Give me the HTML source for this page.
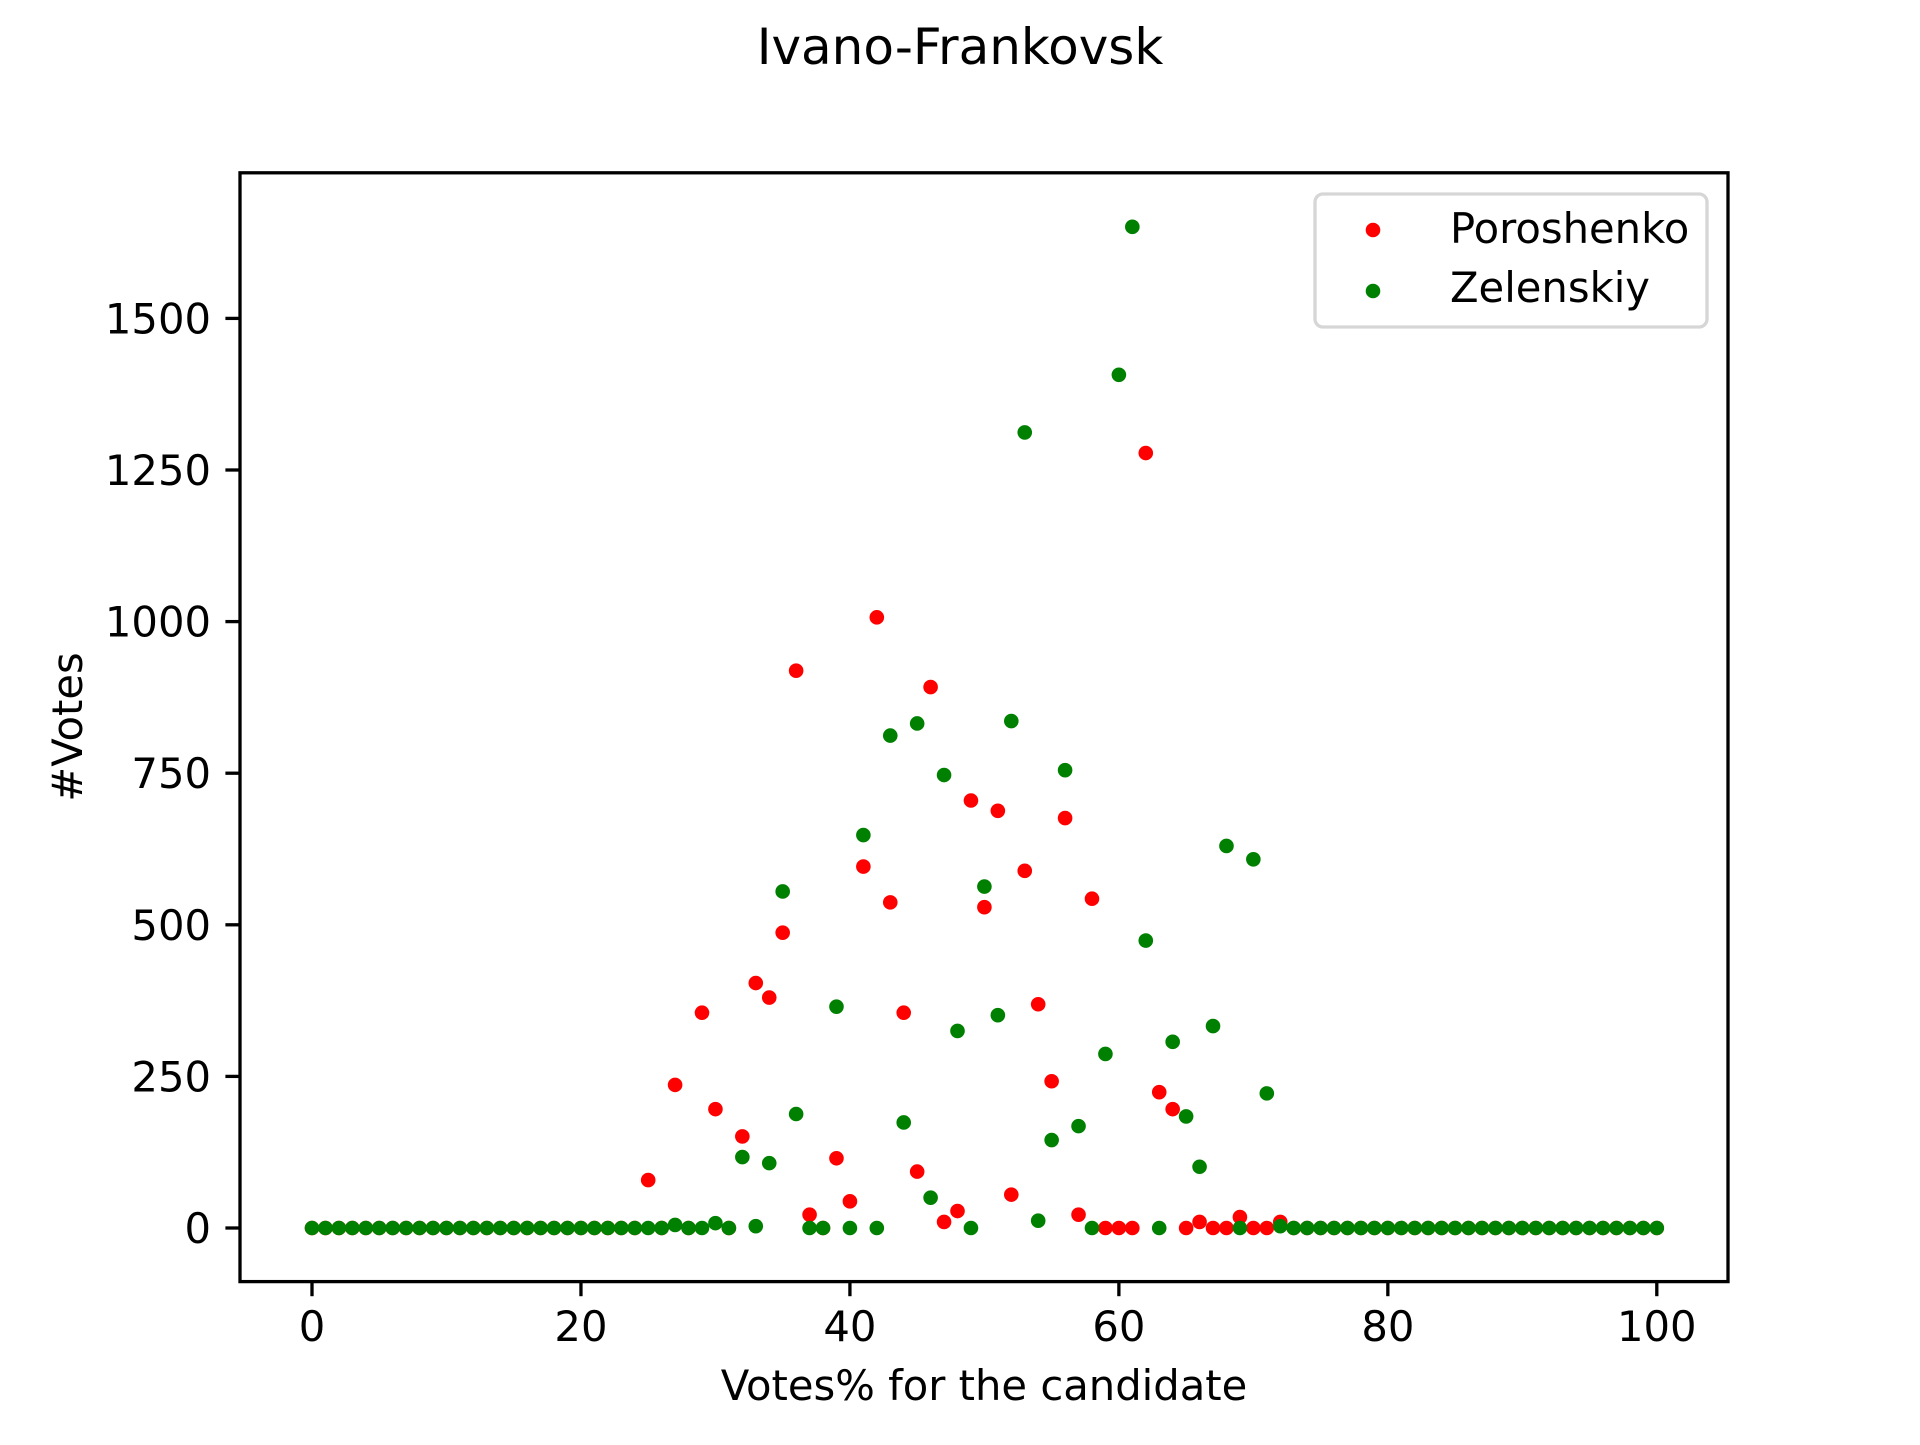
<!DOCTYPE html>
<html><head><meta charset="utf-8"><style>
html,body{margin:0;padding:0;background:#fff;}
svg text{font-family:"DejaVu Sans","Liberation Sans",sans-serif;fill:#000;}
</style></head><body>
<svg id="chart" width="1920" height="1440" viewBox="0 0 1920 1440" xmlns="http://www.w3.org/2000/svg">
<rect width="1920" height="1440" fill="#fff"/>
<text x="960" y="64" font-size="50" text-anchor="middle">Ivano-Frankovsk</text>
<g id="marks"></g>
<g id="axes"></g>
<rect x="240" y="172.8" width="1488" height="1108.8" fill="none" stroke="#000" stroke-width="3.3"/>
<g>
<rect x="1315" y="194" width="392" height="133" rx="8" fill="#fff" fill-opacity="0.8" stroke="#d6d6d6" stroke-width="3.3"/>
<circle cx="1373" cy="230" r="7.3" fill="#ff0000"/>
<text x="1450" y="243" font-size="41.7">Poroshenko</text>
<circle cx="1373" cy="291" r="7.3" fill="#008000"/>
<text x="1450" y="302" font-size="41.7">Zelenskiy</text>
</g>
<text x="984" y="1400" font-size="41.7" text-anchor="middle">Votes% for the candidate</text>
<text x="0" y="0" font-size="41.7" text-anchor="middle" transform="translate(82,727) rotate(-90)">#Votes</text>
</svg>
<script>
const xTicks = [0, 20, 40, 60, 80, 100];
const yTicks = [0, 250, 500, 750, 1000, 1250, 1500];
const poroX = [25,27,29,30,32,33,34,35,36,37,39,40,41,42,43,44,45,46,47,48,49,50,51,52,53,54,55,56,57,58,62,63,64,66,69,72];
const poroY = [79,236,355,196,151,404,380,487,919,22,115,44,596,1007,537,355,93,892,10,28,705,529,688,55,589,369,242,676,22,543,1278,224,196,10,18,10];
const zelX = [27,30,32,33,34,35,36,39,41,43,44,45,46,47,48,50,51,52,53,54,55,56,57,59,60,61,62,64,65,66,67,68,70,71,72];
const zelY = [5,8,117,3,107,555,188,365,648,812,174,832,50,747,325,563,351,836,1312,12,145,755,168,287,1407,1651,474,307,184,101,333,630,608,222,3];

function sx(v){ return 312 + v * (1656.8 - 312) / 100; }
function sy(v){ return 1228 - v * (1228 - 318.4) / 1500; }
const NS = 'http://www.w3.org/2000/svg';
const marks = document.getElementById('marks');
const axes = document.getElementById('axes');

function fullSeries(xs, ys){
  const vals = [];
  for (let i = 0; i <= 100; i++) vals.push(0);
  xs.forEach((x, i) => { vals[x] = ys[i]; });
  return vals;
}
function drawSeries(vals, color, name){
  vals.forEach((v, i) => {
    const c = document.createElementNS(NS, 'circle');
    c.setAttribute('cx', sx(i));
    c.setAttribute('cy', sy(v));
    c.setAttribute('r', 7.3);
    c.setAttribute('fill', color);
    
    
    marks.appendChild(c);
  });
}
drawSeries(fullSeries(poroX, poroY), '#ff0000', 'poroshenko');
drawSeries(fullSeries(zelX, zelY), '#008000', 'zelenskiy');

xTicks.forEach(t => {
  const l = document.createElementNS(NS, 'line');
  l.setAttribute('x1', sx(t)); l.setAttribute('x2', sx(t));
  l.setAttribute('y1', 1281.6); l.setAttribute('y2', 1296.2);
  l.setAttribute('stroke', '#000'); l.setAttribute('stroke-width', 3.3);
  
  
  axes.appendChild(l);
  const tx = document.createElementNS(NS, 'text');
  tx.setAttribute('x', sx(t)); tx.setAttribute('y', 1341);
  tx.setAttribute('font-size', 41.7); tx.setAttribute('text-anchor', 'middle');
  tx.textContent = t;
  
  
  axes.appendChild(tx);
});
yTicks.forEach(t => {
  const l = document.createElementNS(NS, 'line');
  l.setAttribute('x1', 225.4); l.setAttribute('x2', 240);
  l.setAttribute('y1', sy(t)); l.setAttribute('y2', sy(t));
  l.setAttribute('stroke', '#000'); l.setAttribute('stroke-width', 3.3);
  
  
  axes.appendChild(l);
  const tx = document.createElementNS(NS, 'text');
  tx.setAttribute('x', 211); tx.setAttribute('y', sy(t) + 15);
  tx.setAttribute('font-size', 41.7); tx.setAttribute('text-anchor', 'end');
  tx.textContent = t;
  
  
  axes.appendChild(tx);
});
</script>
</body></html>
